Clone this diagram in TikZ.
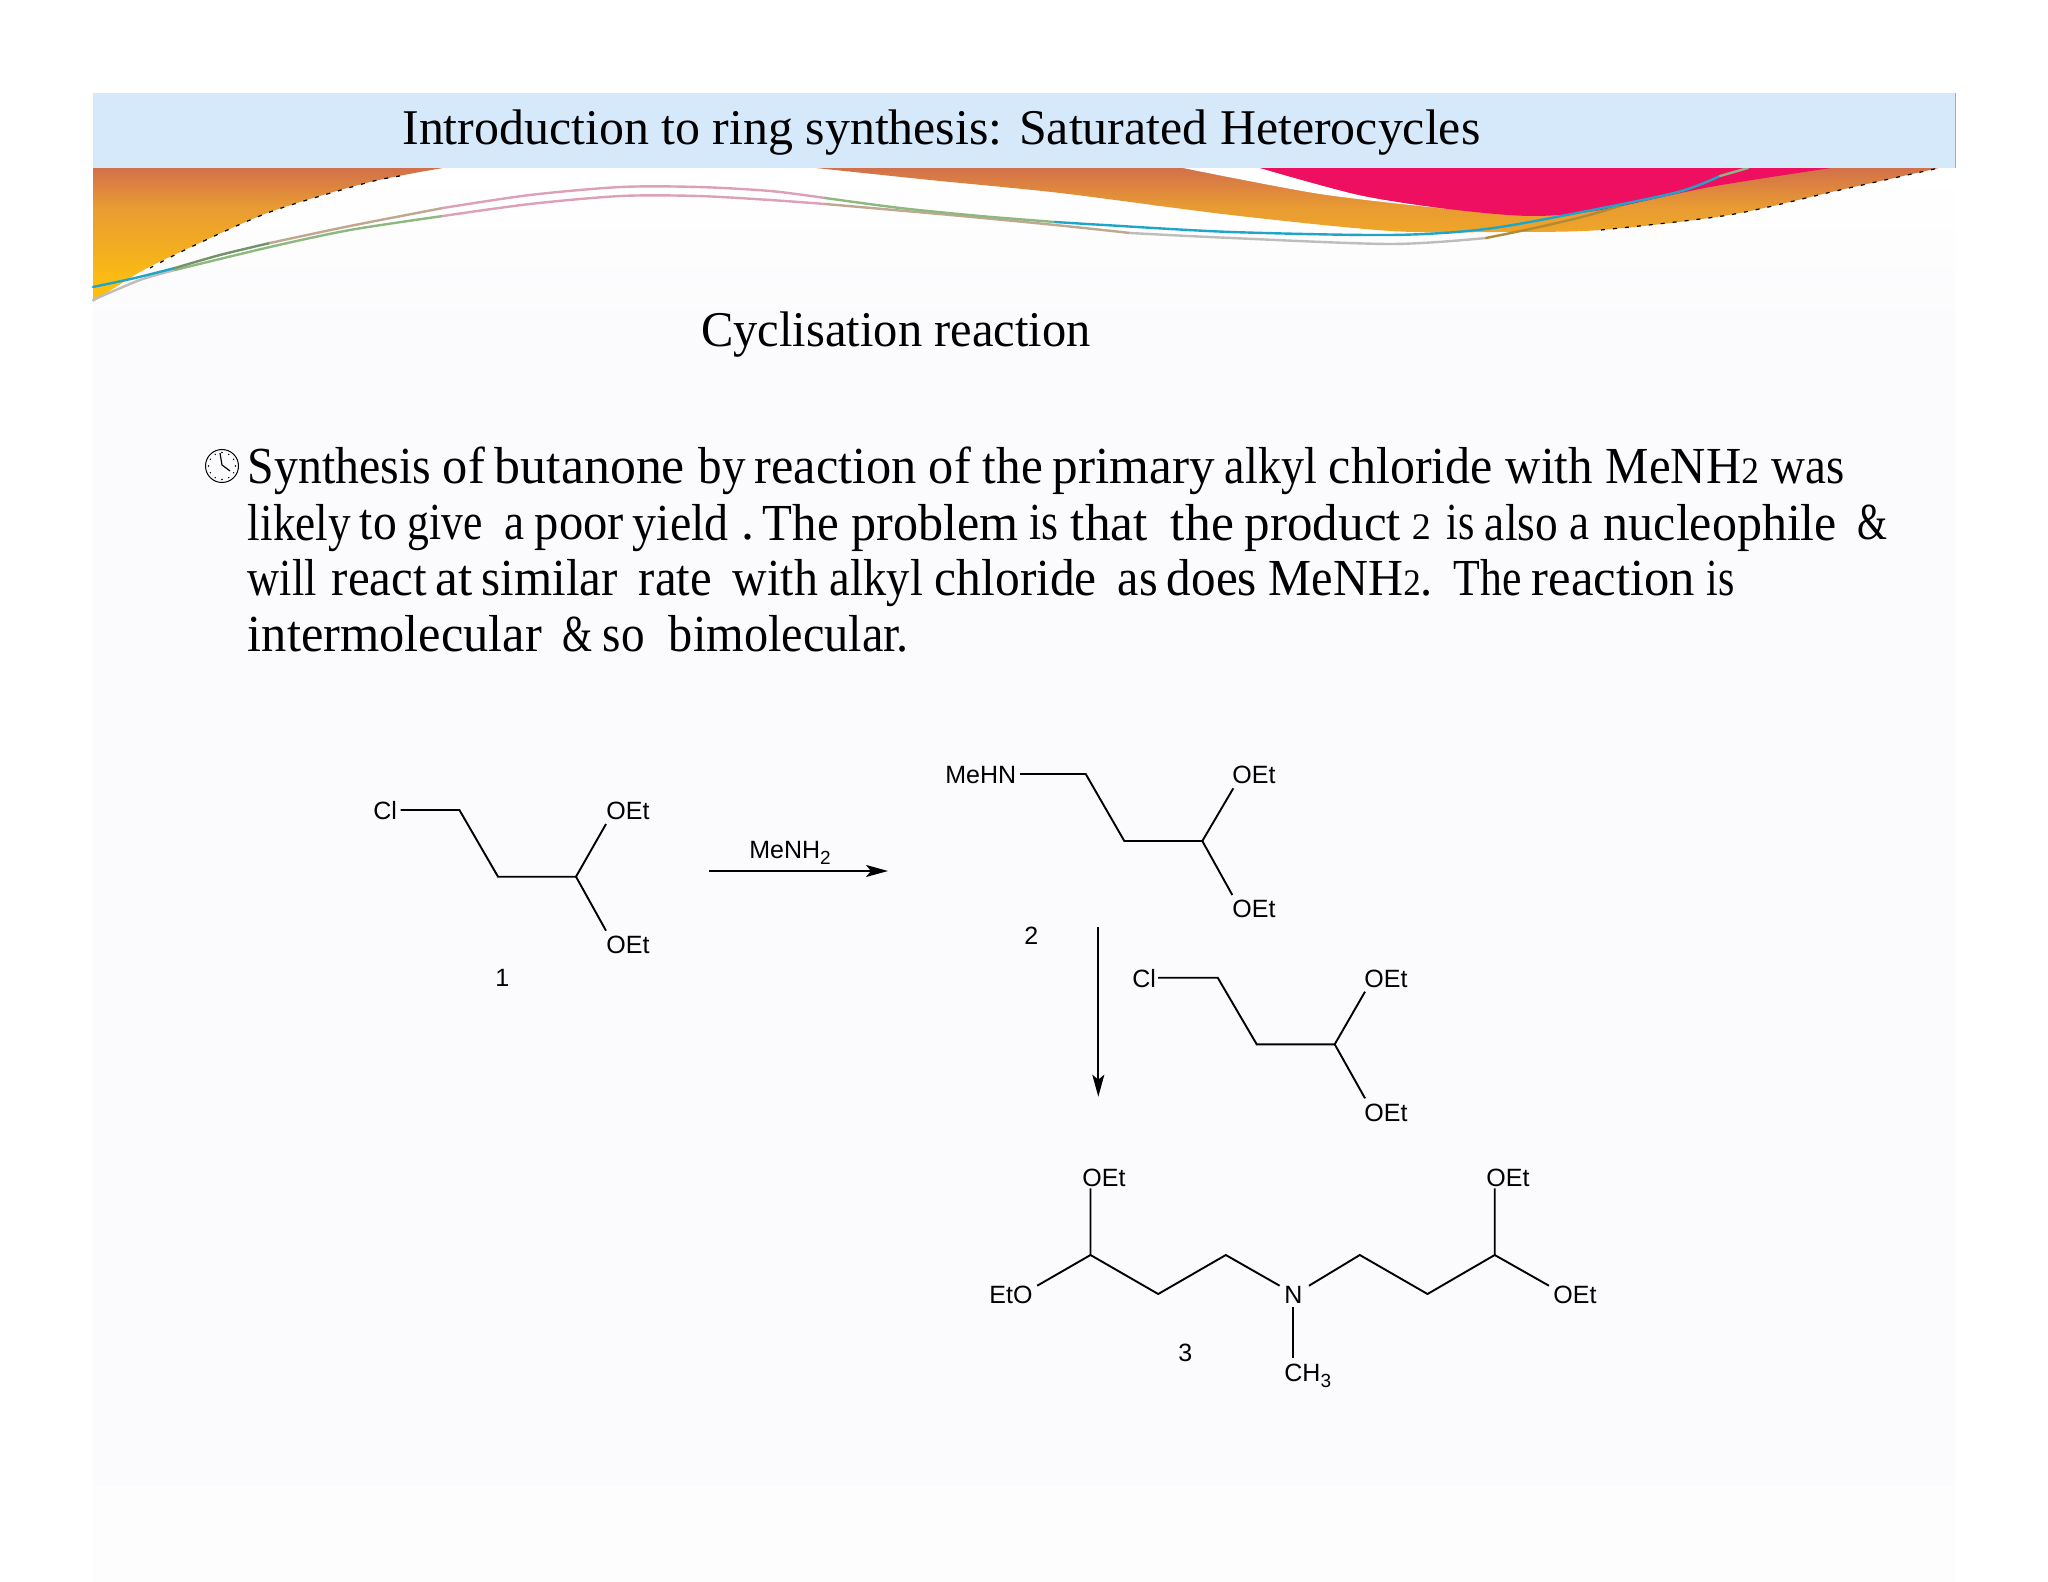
\documentclass[tikz,border=0pt]{standalone}
\usepackage{fontspec}
\usepackage{graphicx}
\usetikzlibrary{arrows.meta}
\setmainfont{Liberation Serif}
\newfontfamily\chemfont{Liberation Sans}
\definecolor{bandblue}{HTML}{D6E9FB}
\definecolor{panelbg}{HTML}{FBFBFD}
\definecolor{panellow}{HTML}{FDFDFE}
\definecolor{orangetop}{HTML}{D2704A}
\definecolor{orangemid}{HTML}{E89A33}
\definecolor{orangelow}{HTML}{FDBE10}
\definecolor{hotpink}{HTML}{EF0F60}
\definecolor{lineteal}{HTML}{1FA5CA}
\definecolor{linegreen}{HTML}{8DB880}
\definecolor{linepink}{HTML}{DDA0B8}
\definecolor{linetan}{HTML}{C0A890}
\definecolor{linegray}{HTML}{BDBDBB}
\definecolor{linebrown}{HTML}{B08A35}
\newlength{\pxu}\setlength{\pxu}{0.5pt}
\newcommand{\fitw}[2]{\resizebox{#1}{\height}{#2}}
\newcommand{\osn}[1]{\scalebox{0.72}{#1}}
\newcommand{\W}[3]{\makebox[0pt][l]{\hspace*{\numexpr#1-247\relax\pxu}\resizebox{\numexpr#2-#1\relax\pxu}{\height}{#3}}\ignorespaces}
\newcommand{\chemsub}[1]{\raisebox{-3.3pt}{\fontsize{9.5}{11}\selectfont #1}}
\tikzset{
  bond/.style={draw=black,line width=0.95pt,line join=miter},
  reactarrow/.style={draw=black,line width=0.95pt,-{Stealth[length=11pt,width=6pt,inset=2.5pt]}},
  atom/.style={anchor=base west,inner sep=0pt,font=\chemfont\fontsize{12.5}{15}\selectfont},
  bodyline/.style={anchor=base west,inner sep=0pt,font=\fontsize{26}{31}\selectfont},
  headline/.style={anchor=base west,inner sep=0pt,font=\fontsize{25}{30}\selectfont},
  swoosh/.style={line width=1.2pt,line cap=round}
}
\begin{document}
\begin{tikzpicture}[x=0.5pt,y=-0.5pt]
\useasboundingbox (0,0) rectangle (2048,1582);
\fill[white] (0,0) rectangle (2048,1582);
\fill[panelbg] (93,168) rectangle (1955,1486);
\shade[top color=white,bottom color=panelbg] (93,168) rectangle (1955,330);
\fill[panellow] (93,1486) rectangle (1955,1582);
% orange swoosh
\begin{scope}
\clip (93,168) -- (443,168) -- plot[smooth] coordinates {(443,168) (366,183) (270,212) (191,247) (140,272) (93,302)} -- cycle
 (816,168) -- plot[smooth] coordinates {(816,168) (930,180) (1060,193) (1231,215) (1391,231) (1500,232) (1601,230) (1729,215) (1840,190) (1939,168)} -- cycle;
\shade[top color=orangetop,bottom color=orangemid] (93,168) rectangle (1955,206);
\shade[top color=orangemid,bottom color=orangelow] (93,205.5) rectangle (1955,285);
\fill[orangelow] (93,284.5) rectangle (1955,302);
\end{scope}
\draw[black,line width=0.6pt,dash pattern=on 2pt off 4pt] plot[smooth] coordinates {(400,176) (366,183) (270,212) (191,247) (150,268)};
\draw[black,line width=0.6pt,dash pattern=on 2pt off 4pt] plot[smooth] coordinates {(1601,230) (1729,215) (1840,190) (1939,168)};
\fill[white] plot[smooth] coordinates {(1183,168) (1320,194) (1448,209)} -- plot[smooth] coordinates {(1448,209) (1359,195) (1260,168)} -- cycle;
\fill[hotpink] plot[smooth] coordinates {(1260,168) (1359,195) (1448,209) (1531,216) (1601,210) (1710,187) (1831,168)} -- cycle;
% thin curves, lower one first
\draw[swoosh,linegray] plot[smooth] coordinates {(93,300) (140,280) (175,270)};
\draw[swoosh,linegreen] plot[smooth] coordinates {(175,270) (270,247) (350,230) (443,216)};
\draw[swoosh,linepink] plot[smooth] coordinates {(443,216) (530,204) (621,196) (698,196) (770,200) (825,204)};
\draw[swoosh,linetan] plot[smooth] coordinates {(825,204) (950,215) (1055,225) (1130,233)};
\draw[swoosh,linegray] plot[smooth] coordinates {(1130,233) (1231,238) (1391,244) (1486,238)};
\draw[swoosh,linebrown] plot[smooth] coordinates {(1486,238) (1530,229) (1582,217) (1620,206)};
\draw[swoosh,lineteal] plot[smooth] coordinates {(93,287) (135,278) (175,268)};
\draw[swoosh,linegreen!80!black] plot[smooth] coordinates {(175,268) (220,255) (270,243)};
\draw[swoosh,linetan] plot[smooth] coordinates {(270,243) (350,226) (443,208)};
\draw[swoosh,linepink] plot[smooth] coordinates {(443,208) (530,195) (621,187) (698,187) (770,191) (825,198)};
\draw[swoosh,linegreen] plot[smooth] coordinates {(825,198) (900,208) (980,216) (1055,222)};
\draw[swoosh,lineteal] plot[smooth] coordinates {(1055,222) (1104,225) (1231,232) (1391,235) (1486,229) (1582,212) (1678,192) (1720,176)};
\draw[swoosh,linegreen] plot[smooth] coordinates {(1720,176) (1748,168)};
% title band
\fill[bandblue] (93,93) rectangle (1955,168);
\draw[linetan,line width=0.5pt] (1955,93) -- (1955,168);
\node[headline] (title) at (402,144.5) {\fitw{539pt}{Introduction to ring synthesis: Saturated Heterocycles}};
\node[headline] (subtitle) at (701,347) {\fitw{194.5pt}{Cyclisation reaction}};
% clock bullet
\draw[black,line width=0.5pt] (222,466) circle[radius=16.5];
\foreach \a in {0,30,...,330} \fill[black] (222,466) ++(\a:13.5) circle[radius=0.8];
\draw[black,line width=0.6pt] (220,453) -- (222,465) -- (230,471);
% body text, word by word
\node[bodyline] (l1) at (245.5,484) {\W{248}{431}{Synthesis}\W{443}{485}{of}\W{495}{685}{butanone}\W{699}{746}{by}\W{755}{917}{reaction}\W{929}{971}{of}\W{983}{1043}{the}\W{1053}{1215}{primary}\W{1225}{1317}{alkyl}\W{1329}{1493}{chloride}\W{1506}{1593}{with}\W{1606}{1759}{MeNH\osn{2}}\W{1772}{1845}{was}};
\node[bodyline] (l2) at (245.5,540) {\W{248}{351}{likely}\W{360}{397}{to}\W{408}{483}{give}\W{505}{525}{a}\W{535}{624}{poor}\W{633}{729}{yield}\W{742}{755}{.}\W{763}{839}{The}\W{852}{1019}{problem}\W{1030}{1059}{is}\W{1071}{1148}{that}\W{1171}{1234}{the}\W{1245}{1401}{product}\W{1412}{1431}{\osn{2}}\W{1447}{1475}{is}\W{1485}{1558}{also}\W{1570}{1590}{a}\W{1604}{1837}{nucleophile}\W{1858}{1888}{\&}};
\node[bodyline] (l3) at (245.5,596) {\W{248}{317}{will}\W{332}{427}{react}\W{436}{473}{at}\W{482}{618}{similar}\W{639}{712}{rate}\W{733}{818}{with}\W{830}{923}{alkyl}\W{935}{1097}{chloride}\W{1118}{1158}{as}\W{1167}{1257}{does}\W{1269}{1433}{MeNH\osn{2}.}\W{1454}{1522}{The}\W{1532}{1695}{reaction}\W{1707}{1735}{is}};
\node[bodyline] (l4) at (245.5,651.3) {\W{248}{542}{intermolecular}\W{563}{593}{\&}\W{603}{645}{so}\W{669}{909}{bimolecular.}};
% compound 1
\node[atom] (clA) at (373,819) {Cl};
\node[atom] (oetAu) at (606,819) {OEt};
\node[atom] (oetAd) at (606,953) {OEt};
\node[atom] (numA) at (495,986) {1};
\coordinate (a0) at (400.5,810); \coordinate (a1) at (459.4,810); \coordinate (a2) at (498,876.7);
\coordinate (a3) at (576,876.7); \coordinate (a4) at (606,824); \coordinate (a5) at (606,930.7);
\draw[bond] (a0) -- (a1) -- (a2) -- (a3) -- (a4);
\draw[bond] (a3) -- (a5);
% reagent arrow
\coordinate (arrAs) at (709,871); \coordinate (arrAe) at (888,871);
\draw[reactarrow] (arrAs) -- (arrAe);
\node[atom] (reag) at (749,858) {MeNH\chemsub{2}};
% compound 2
\node[atom] (mehn) at (945,783) {MeHN};
\node[atom] (oetBu) at (1232,783) {OEt};
\node[atom] (oetBd) at (1232,917) {OEt};
\node[atom] (numB) at (1024,944) {2};
\coordinate (b0) at (1020,774); \coordinate (b1) at (1085.7,774); \coordinate (b2) at (1124.3,841);
\coordinate (b3) at (1202.3,841); \coordinate (b4) at (1233.3,788.3); \coordinate (b5) at (1232.3,895);
\draw[bond] (b0) -- (b1) -- (b2) -- (b3) -- (b4);
\draw[bond] (b3) -- (b5);
% second arrow
\coordinate (arrBs) at (1098.3,927.3); \coordinate (arrBe) at (1098.3,1096.7);
\draw[reactarrow] (arrBs) -- (arrBe);
% second chloride
\node[atom] (clC) at (1132,987) {Cl};
\node[atom] (oetCu) at (1364,987) {OEt};
\node[atom] (oetCd) at (1364,1121) {OEt};
\coordinate (c0) at (1158,977.7); \coordinate (c1) at (1217.7,977.7); \coordinate (c2) at (1256.7,1044.3);
\coordinate (c3) at (1334.7,1044.3); \coordinate (c4) at (1365,991.7); \coordinate (c5) at (1365,1098.3);
\draw[bond] (c0) -- (c1) -- (c2) -- (c3) -- (c4);
\draw[bond] (c3) -- (c5);
% compound 3
\node[atom] (oetD1) at (1082,1186) {OEt};
\node[atom] (etoD) at (989,1303) {EtO};
\node[atom] (nD) at (1284,1303) {N};
\node[atom] (oetD2) at (1486,1186) {OEt};
\node[atom] (oetD3) at (1553,1303) {OEt};
\node[atom] (ch3) at (1284,1381) {CH\chemsub{3}};
\node[atom] (numD) at (1178,1361) {3};
\coordinate (d0) at (1090.5,1188.3); \coordinate (d1) at (1090.5,1255); \coordinate (d2) at (1037.2,1285.7);
\coordinate (d3) at (1158.2,1294); \coordinate (d4) at (1225.8,1255); \coordinate (d5) at (1279.6,1285.7);
\coordinate (d6) at (1309,1285.7); \coordinate (d7) at (1359.8,1255); \coordinate (d8) at (1427.5,1294);
\coordinate (d9) at (1494.7,1255); \coordinate (d10) at (1494.7,1188.3); \coordinate (d11) at (1548.9,1285.7);
\coordinate (d12) at (1292.6,1307.3); \coordinate (d13) at (1292.6,1358.3);
\draw[bond] (d0) -- (d1) -- (d3) -- (d4) -- (d5);
\draw[bond] (d2) -- (d1);
\draw[bond] (d6) -- (d7) -- (d8) -- (d9) -- (d10);
\draw[bond] (d9) -- (d11);
\draw[bond] (d12) -- (d13);
\end{tikzpicture}
\end{document}
